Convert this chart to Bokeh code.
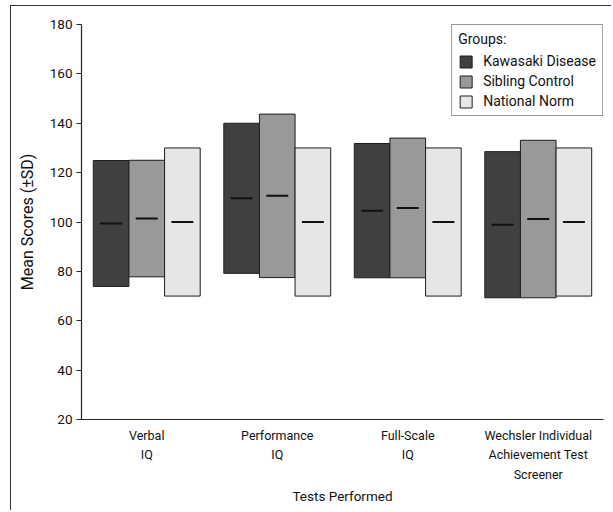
from bokeh.plotting import figure
from bokeh.models import (FactorRange, Range1d, ColumnDataSource, Legend, LegendItem,
                          FixedTicker)
from bokeh.transform import dodge
from bokeh.embed import file_html
from bokeh.resources import INLINE

# ---- data ----
tests = ["Verbal\nIQ", "Performance\nIQ", "Full-Scale\nIQ",
         "Wechsler Individual\nAchievement Test\nScreener"]
groups = ["Kawasaki Disease", "Sibling Control", "National Norm"]
kd_mean = [99.4, 109.6, 104.6, 98.9]
kd_sd = [25.5, 30.4, 27.2, 29.6]
sc_mean = [101.4, 110.6, 105.7, 101.2]
sc_sd = [23.6, 33.1, 28.3, 31.9]
nn_mean = [100, 100, 100, 100]
nn_sd = [30, 30, 30, 30]
y_ticks = [20, 40, 60, 80, 100, 120, 140, 160, 180]

colors = ["#404040", "#999999", "#e6e6e6"]
FONT = "Roboto"

p = figure(width=601, height=505,
           x_range=FactorRange(*tests, range_padding=0, factor_padding=0),
           y_range=Range1d(20, 180),
           output_backend="svg", toolbar_location=None,
           min_border_left=70, min_border_right=9, min_border_top=18, min_border_bottom=92,
           margin=(5, 0, 0, 10))
p.styles = {"border-top": "1.5px solid #333333", "border-left": "1.5px solid #333333"}
p.outline_line_color = None
p.grid.visible = False
p.background_fill_color = "white"
p.border_fill_color = "white"

bw = 0.273
offsets = [-bw, 0.0, bw]
means = [kd_mean, sc_mean, nn_mean]
sds = [kd_sd, sc_sd, nn_sd]
items = []
for g, m, s, c, off in zip(groups, means, sds, colors, offsets):
    src = ColumnDataSource(dict(test=tests, mean=m,
                                top=[a + b for a, b in zip(m, s)],
                                bottom=[a - b for a, b in zip(m, s)]))
    r = p.vbar(x=dodge("test", off, range=p.x_range), top="top", bottom="bottom",
               width=bw, source=src, fill_color=c, line_color="#1e1e1e", line_width=1)
    p.scatter(x=dodge("test", off, range=p.x_range), y="mean", source=src,
              marker="dash", size=22, line_width=2, line_color="#111111")
    items.append(LegendItem(label=g, renderers=[r]))

legend = Legend(items=items, location="top_right", title="Groups:")
legend.margin = 0
legend.padding = 6
legend.spacing = 4
legend.glyph_width = 15
legend.glyph_height = 15
legend.label_height = 16
legend.label_standoff = 10
legend.label_text_font = FONT
legend.label_text_font_size = "14px"
legend.label_text_color = "#111111"
legend.title_text_font = FONT
legend.title_text_font_size = "14px"
legend.title_text_font_style = "normal"
legend.title_text_color = "#111111"
legend.title_standoff = 6
legend.border_line_color = "#333333"
legend.border_line_width = 1
legend.background_fill_alpha = 1
p.add_layout(legend)

# y axis
p.yaxis.ticker = FixedTicker(ticks=y_ticks)
p.yaxis.axis_label = "Mean Scores (\u00b1SD)"
p.yaxis.axis_label_text_font = FONT
p.yaxis.axis_label_text_font_size = "16px"
p.yaxis.axis_label_text_font_style = "normal"
p.yaxis.axis_label_text_color = "#111111"
p.yaxis.axis_label_standoff = 10
p.yaxis.major_label_text_font = FONT
p.yaxis.major_label_text_font_size = "13.5px"
p.yaxis.major_label_text_color = "#111111"
p.yaxis.major_tick_out = 5
p.yaxis.major_tick_in = 0
p.yaxis.minor_tick_line_color = None
p.yaxis.major_label_standoff = 4
p.yaxis.major_tick_line_color = "#222222"

# x axis
p.xaxis.axis_label = "Tests Performed"
p.xaxis.axis_label_text_font = FONT
p.xaxis.axis_label_text_font_size = "13.5px"
p.xaxis.axis_label_text_font_style = "normal"
p.xaxis.axis_label_text_color = "#111111"
p.xaxis.axis_label_standoff = 3
p.xaxis.major_label_text_font = FONT
p.xaxis.major_label_text_font_size = "12.5px"
p.xaxis.major_label_text_line_height = 1.3
p.xaxis.major_label_text_color = "#111111"
p.xaxis.major_tick_line_color = None
p.xaxis.major_tick_out = 0
p.xaxis.major_tick_in = 0
p.xaxis.major_label_standoff = 8

for ax in (p.xaxis[0], p.yaxis[0]):
    ax.axis_line_color = "#222222"
    ax.axis_line_width = 1.2

open("out.html", "w").write(file_html(p, INLINE))
